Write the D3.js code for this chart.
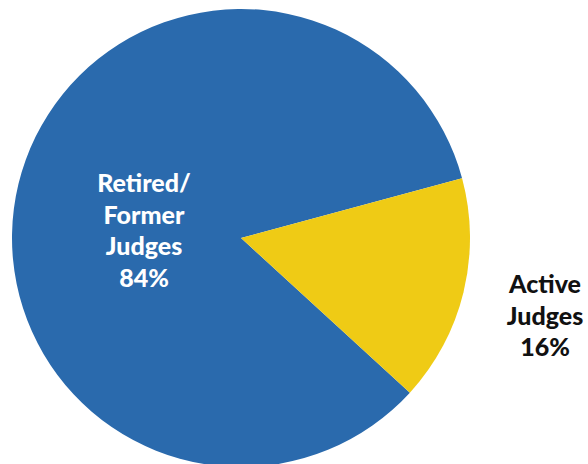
<!DOCTYPE html>
<html><head><meta charset="utf-8">
<script src="https://cdn.jsdelivr.net/npm/d3@7"></script>
<style>body{margin:0;background:#fff}svg{display:block}</style>
</head><body>
<script>
const categories = ["Retired/Former Judges", "Active Judges"];
const values = [84, 16];
const colors = ["#2a6aad", "#efcb15"];
const labelLines = [["Retired/", "Former", "Judges", "84%"], ["Active", "Judges", "16%"]];

const W = 588, H = 464, cx = 241, cy = 238, R = 229;
const svg = d3.select("body").append("svg").attr("width", W).attr("height", H);
const g = svg.append("g").attr("transform", `translate(${cx},${cy})`);
const data = categories.map((c, i) => ({c, v: values[i], i}));
const pie = d3.pie().value(d => d.v).sort(null).startAngle(Math.PI*2*0.368 - Math.PI*2).endAngle(Math.PI*2*0.368);
const arcs = pie(data);
const arc = d3.arc().innerRadius(0).outerRadius(R);
g.selectAll("path").data(arcs).enter().append("path")
  .attr("d", arc).attr("fill", d => colors[d.data.i]);

const font = "Lato, 'Open Sans', sans-serif";
const labelPos = [[144, 192], [545, 293]];
const textColors = ["#ffffff", "#111111"];
labelLines.forEach((lines, i) => {
  const t = svg.append("text").attr("text-anchor", "middle")
    .attr("font-family", font).attr("font-weight", 900).attr("font-size", 25)
    .attr("fill", textColors[i]);
  lines.forEach((l, k) => t.append("tspan").attr("x", labelPos[i][0]).attr("y", labelPos[i][1] + k * 31.5).text(l));
});
</script>
</body></html>
